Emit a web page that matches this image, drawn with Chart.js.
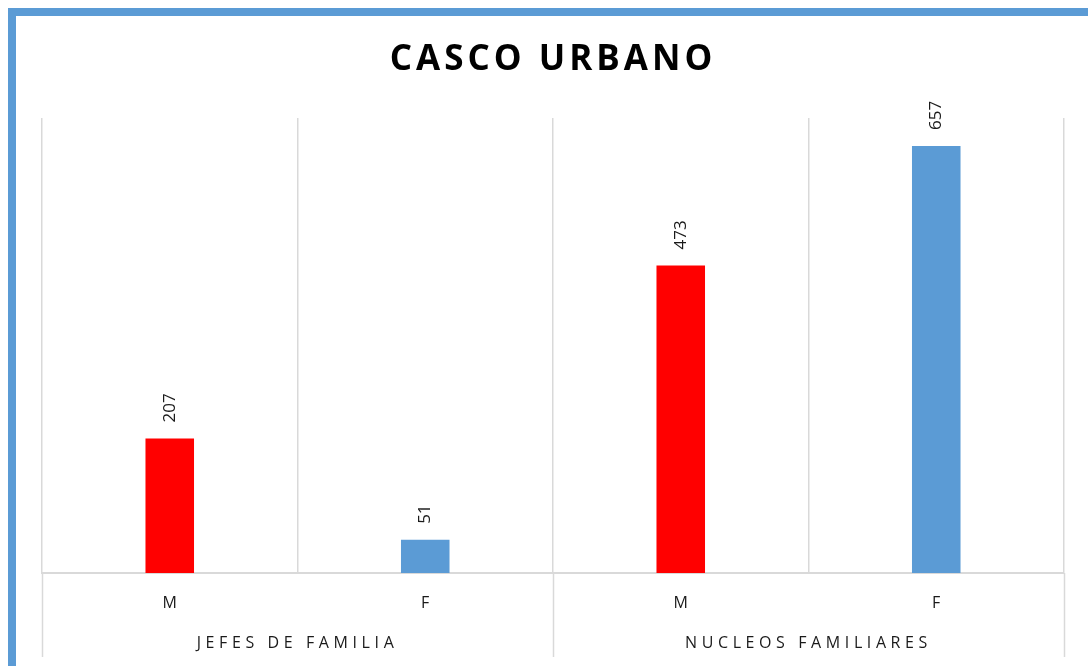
<!DOCTYPE html>
<html>
<head>
<meta charset="utf-8">
<script src="https://cdn.jsdelivr.net/npm/chart.js"></script>
<style>
  html, body { margin: 0; padding: 0; background: #fff; overflow: hidden; }
  #wrap { position: relative; width: 1088px; height: 666px; }
  #frame {
    position: absolute; left: 8px; top: 8px; width: 1200px; height: 800px;
    border: 8px solid #5B9BD5; box-sizing: border-box; pointer-events: none;
  }
  canvas { position: absolute; left: 0; top: 0; }
</style>
</head>
<body>
<div id="wrap">
  <canvas id="chart" width="1088" height="666"></canvas>
  <div id="frame"></div>
</div>
<script>
// Datos del gráfico
const categories = ['M', 'F', 'M', 'F'];
const groups = ['JEFES DE FAMILIA', 'NUCLEOS FAMILIARES'];
const values = [207, 51, 473, 657];
const barColors = ['#FF0000', '#5B9BD5', '#FF0000', '#5B9BD5'];
const yMax = 700;

const FONT = "'Open Sans', 'Liberation Sans', sans-serif";
const GRID = '#D9D9D9';

// Espaciado de letras para título y etiquetas de grupo
const spacingPlugin = {
    id: 'spacing',
    afterLayout(chart) {
        const wrap = (obj, fn, spacing) => {
            if (!obj || obj['_sp_' + fn]) return;
            const orig = obj[fn].bind(obj);
            obj[fn] = function (...args) {
                const ctx = chart.ctx;
                ctx.save();
                ctx.letterSpacing = spacing;
                orig(...args);
                ctx.restore();
            };
            obj['_sp_' + fn] = true;
        };
        wrap(chart.titleBlock, 'draw', '4px');
        wrap(chart.scales.xg, 'drawLabels', '4.6px');
    }
};

// Líneas separadoras de los grupos bajo el eje
const groupLines = {
    id: 'groupLines',
    afterDraw(chart) {
        const xg = chart.scales.xg;
        const ctx = chart.ctx;
        const n = groups.length;
        ctx.save();
        ctx.strokeStyle = GRID;
        ctx.lineWidth = 1.5;
        for (let i = 0; i <= n; i++) {
            const x = Math.round(xg.left + i * xg.width / n) + 0.5;
            ctx.beginPath();
            ctx.moveTo(x, chart.chartArea.bottom);
            ctx.lineTo(x, xg.bottom);
            ctx.stroke();
        }
        ctx.restore();
    }
};

// Etiquetas de valor, giradas
const valueLabels = {
    id: 'valueLabels',
    afterDatasetsDraw(chart) {
        const ctx = chart.ctx;
        const meta = chart.getDatasetMeta(0);
        ctx.save();
        ctx.font = '17px ' + FONT;
        ctx.fillStyle = '#1a1a1a';
        ctx.textAlign = 'left';
        ctx.textBaseline = 'middle';
        meta.data.forEach((bar, i) => {
            ctx.save();
            ctx.translate(bar.x, bar.y - 16);
            ctx.rotate(-Math.PI / 2);
            ctx.fillText(String(values[i]), 0, 0);
            ctx.restore();
        });
        ctx.restore();
    }
};

new Chart(document.getElementById('chart').getContext('2d'), {
    type: 'bar',
    data: {
        labels: categories,
        datasets: [{
            data: values,
            backgroundColor: barColors,
            borderWidth: 0,
            categoryPercentage: 1,
            barPercentage: 0.19
        }]
    },
    options: {
        responsive: false,
        animation: false,
        events: [],
        layout: { padding: { left: 42, right: 24, top: 0, bottom: 9 } },
        plugins: {
            legend: { display: false },
            tooltip: { enabled: false },
            title: {
                display: true,
                text: 'CASCO URBANO',
                color: '#000',
                font: { family: FONT, size: 35, weight: 'bold' },
                padding: { top: 39, bottom: 37 }
            }
        },
        scales: {
            y: { display: false, min: 0, max: yMax },
            x: {
                weight: 0,
                offset: true,
                grid: { offset: true, color: GRID, lineWidth: 1.5, drawTicks: false },
                border: { display: true, color: GRID, width: 2 },
                ticks: { color: '#1a1a1a', padding: 21, font: { family: FONT, size: 16 } },
                afterFit: (s) => { s.height = 47; }
            },
            xg: {
                type: 'category',
                position: 'bottom',
                weight: 1,
                labels: groups,
                offset: true,
                grid: { display: false, drawTicks: false },
                border: { display: false },
                ticks: { color: '#1a1a1a', padding: 14, font: { family: FONT, size: 16 } },
                afterFit: (s) => { s.height = 37; }
            }
        }
    },
    plugins: [spacingPlugin, groupLines, valueLabels]
});
</script>
</body>
</html>
